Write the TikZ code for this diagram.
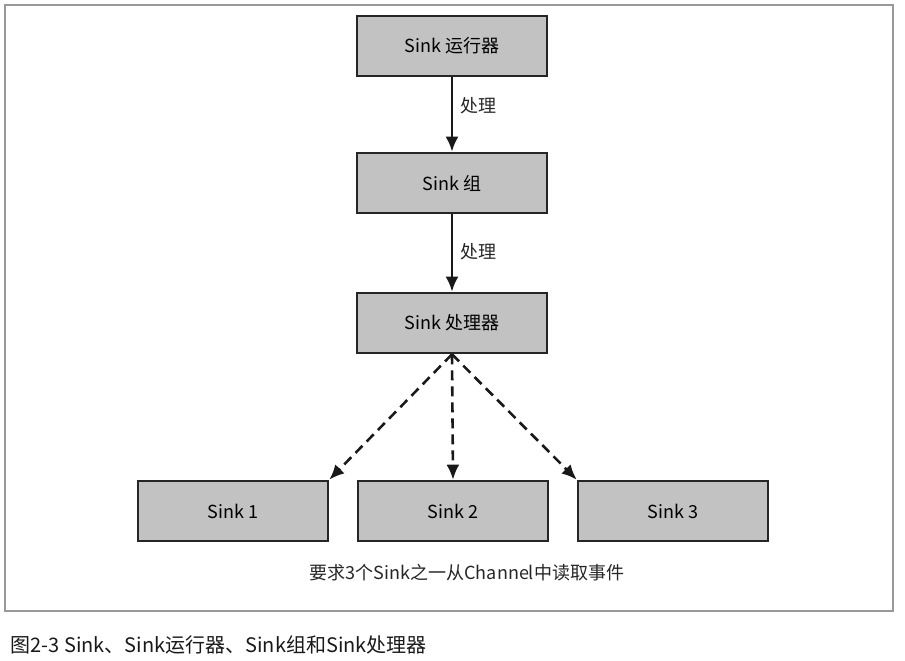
\documentclass[tikz,border=0pt]{standalone}
\usepackage{fontspec}
\setmainfont{Noto Sans CJK SC}
\usetikzlibrary{arrows.meta,positioning}
\tikzset{
  sinkbox/.style={rectangle, draw=black!85, line width=2.6pt, fill=black!24,
                  minimum width=190pt, minimum height=60pt, inner sep=0pt,
                  font=\fontsize{18}{21}\selectfont},
  ar/.style={-{Latex[length=15pt,width=13pt]}, line width=2.6pt, draw=black!90},
  dar/.style={ar, dash pattern=on 10pt off 6pt},
  lbl/.style={font=\fontsize{18}{21}\selectfont, text=black!85},
}

\begin{document}
\begin{tikzpicture}[x=1pt,y=-1pt]
\useasboundingbox (0,0) rectangle (905,661);

% ---- outer frame ----
\draw[black!40, line width=1.2pt] (5,5) rectangle (893,611);

% ---- main chain ----
\node[sinkbox] (runner) at (452,46) {Sink 运行器};
\node[sinkbox] (group)  at (452,183) {Sink 组};
\node[sinkbox] (proc)   at (452,323) {Sink 处理器};

\draw[ar] (runner) -- (group) node[lbl, pos=0.38, right=4pt] (lblA) {处理};
\draw[ar] (group) -- (proc) node[lbl, pos=0.48, right=4pt] (lblB) {处理};

% ---- the three sinks ----
\node[sinkbox] (s1) at (233,511) {Sink 1};
\node[sinkbox] (s2) at (453,511) {Sink 2};
\node[sinkbox] (s3) at (673,511) {Sink 3};

\draw[dar] (proc.south) -- (s1.north east);
\draw[dar] (proc.south) -- (s2.north);
\draw[dar] (proc.south) -- (s3.north west);

\node[lbl] (note) at (467,573) {要求3个Sink之一从Channel中读取事件};

% ---- caption ----
\node[anchor=west, font=\fontsize{20}{23}\selectfont, text=black!90] (cap) at (7,645)
  {图2-3 Sink、Sink运行器、Sink组和Sink处理器};

\end{tikzpicture}
\end{document}
